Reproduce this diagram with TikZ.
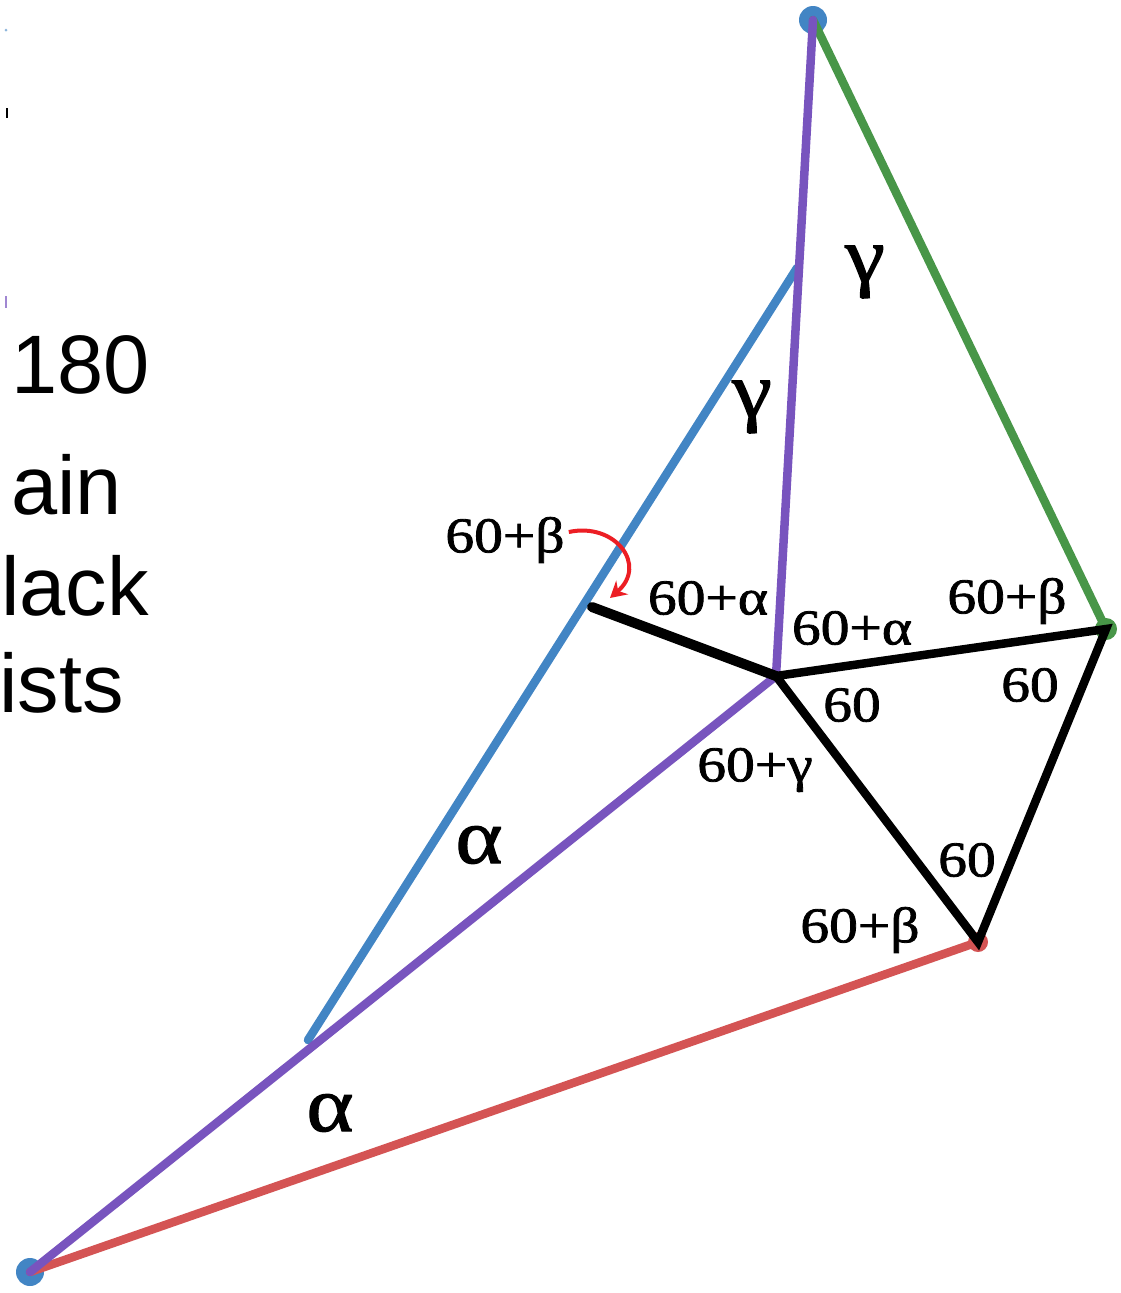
\documentclass[tikz,border=0pt]{standalone}
\usepackage{fontspec}
\setmainfont{Liberation Serif}
\newfontfamily\lblfont[FakeStretch=1.15,FakeBold=1.6]{Liberation Serif}
\newfontfamily\sidefont{Liberation Sans}
\usetikzlibrary{arrows.meta}
\definecolor{cblue}{RGB}{66,133,196}
\definecolor{cpurple}{RGB}{120,84,190}
\definecolor{cgreen}{RGB}{72,150,72}
\definecolor{cred}{RGB}{212,84,84}
\definecolor{carrow}{RGB}{236,30,36}
\begin{document}
\begin{tikzpicture}[x=1pt,y=-1pt,
  lbl/.style={font=\lblfont\fontsize{50}{50}\selectfont, inner sep=0pt},
  big/.style={font=\lblfont\fontsize{78}{78}\selectfont, inner sep=0pt},
  side/.style={font=\sidefont\fontsize{83}{90}\selectfont, inner sep=0pt, anchor=base east},
  seg/.style={line width=8.5pt, line cap=round},
  dotn/.style={circle, inner sep=0pt, minimum size=#1}]
\useasboundingbox[fill=white] (0,0) rectangle (1120,1293);

% points
\coordinate (A) at (30,1272);
\coordinate (T) at (813,20);
\coordinate (R) at (1106,629);
\coordinate (B) at (978,942);
\coordinate (P) at (776,676);
\coordinate (Q) at (592,607);
\coordinate (U1) at (308,1040);
\coordinate (U2) at (797,268);

% dots (under lines)
\node[dotn=28pt, fill=cblue] (dT) at (T) {};
\node[dotn=28pt, fill=cblue] (dA) at (A) {};
\node[dotn=22pt, fill=cgreen] (dR) at (R) {};
\node[dotn=20pt, fill=cred] (dB) at (B) {};

% lines
\draw[seg, cblue, line width=8.5pt] (U1) -- (U2);
\draw[seg, cred] (A) -- (B);
\draw[seg, cgreen] (T) -- (R);
\draw[seg, cpurple] (A) -- (P);
\draw[seg, cpurple] (P) -- (T);
\draw[seg, black, line width=10pt] (Q) -- (P);
\draw[seg, black] (P) -- (R) -- (B) -- cycle;

% left edge ticks
\node[dotn=3pt, fill=cblue!60] (t1) at (6,30) {};
\draw[black, line width=2pt] (7,108) coordinate (t2a) -- (7,118) coordinate (t2b);
\draw[cpurple!70, line width=2pt] (6,296) coordinate (t3a) -- (6,308) coordinate (t3b);

% cropped side text
\node[side] (s1) at (150,393) {180};
\node[side] (s2) at (122,514) {ain};
\node[side] (s3) at (149,615) {lack};
\node[side] (s4) at (124,712) {ists};

% angle labels
\node[big] (g1) at (865,272) {γ};
\node[big] (g2) at (752,407) {γ};
\node[big] (a1) at (479,845) {α};
\node[big] (a2) at (330,1113) {α};
\node[lbl] (l1) at (505,540) {60+β};
\node[lbl] (l2) at (708,598) {60+α};
\node[lbl] (l3) at (852,628) {60+α};
\node[lbl] (l4) at (1007,601) {60+β};
\node[lbl] (l5) at (1030,685) {60};
\node[lbl] (l6) at (852,705) {60};
\node[lbl] (l7) at (755,770) {60+γ};
\node[lbl] (l8) at (967,860) {60};
\node[lbl] (l9) at (860,930) {60+β};

% red curved arrow
\draw[carrow, line width=4pt, -{Stealth[length=16pt,width=18pt]}] (l1.east) ++(4,-8) coordinate (c0)
  .. controls (615,522) and (648,565) .. (610,598) coordinate (c1);
\end{tikzpicture}
\end{document}
